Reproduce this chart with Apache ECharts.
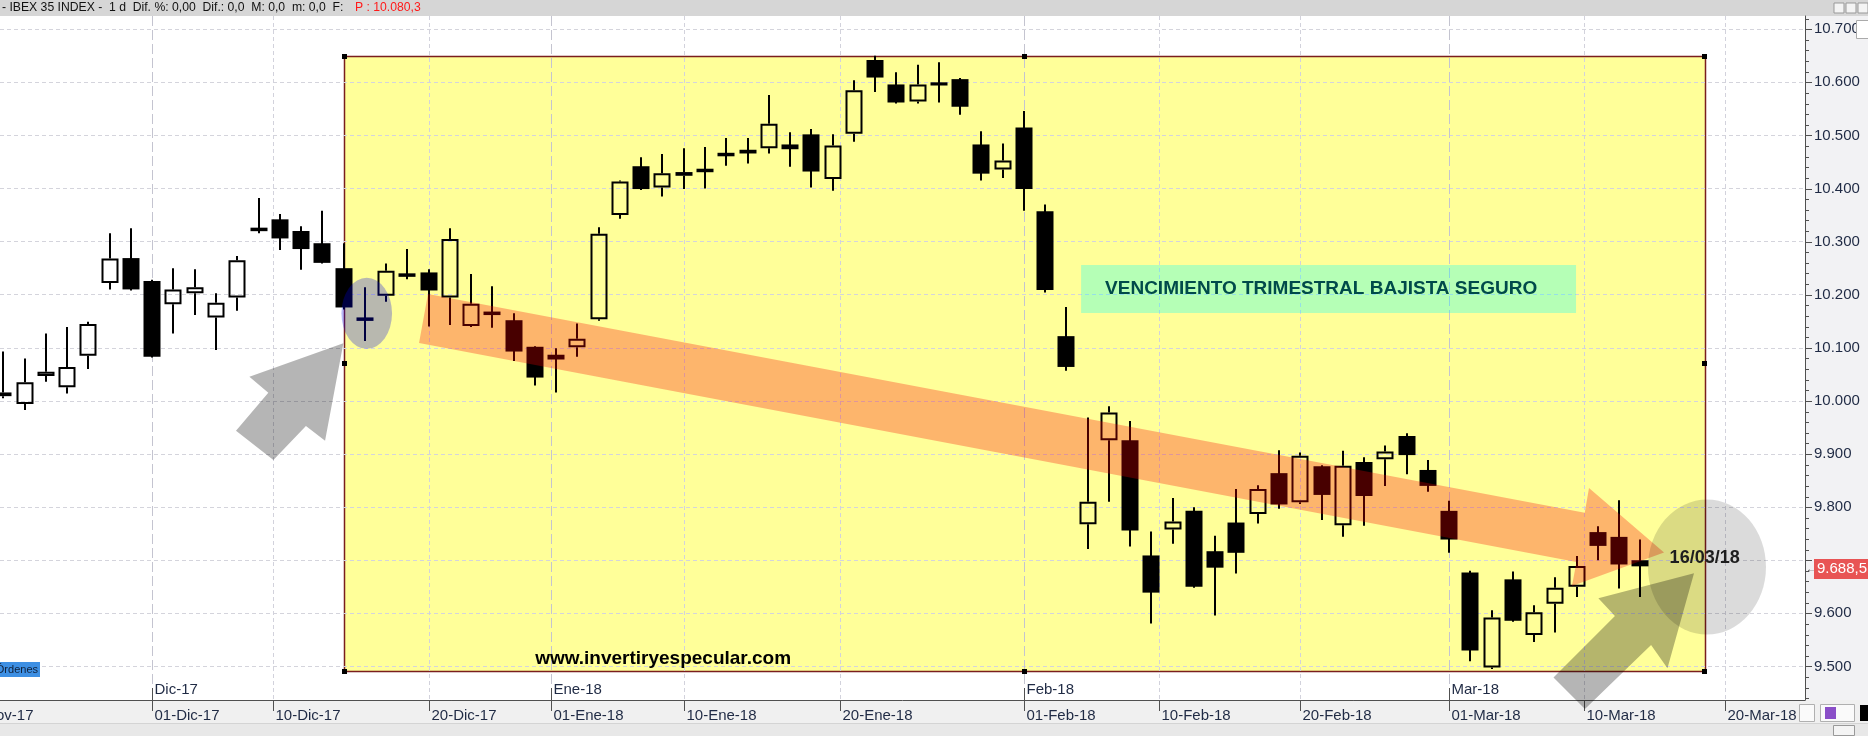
<!DOCTYPE html>
<html>
<head>
<meta charset="utf-8">
<script src="https://cdn.jsdelivr.net/npm/echarts@6.0.0/dist/echarts.min.js"></script>
<style>
html,body{margin:0;padding:0;background:#ffffff;overflow:hidden;}
#chart{width:1868px;height:736px;}
</style>
</head>
<body>
<div id="chart"></div>
<script>
// ---------------- data ----------------
const dates = ['22-Nov-17','23-Nov-17','24-Nov-17','27-Nov-17','28-Nov-17','29-Nov-17','30-Nov-17',
 '01-Dic-17','04-Dic-17','05-Dic-17','06-Dic-17','07-Dic-17','08-Dic-17','11-Dic-17','12-Dic-17','13-Dic-17','14-Dic-17','15-Dic-17','18-Dic-17','19-Dic-17','20-Dic-17','21-Dic-17','22-Dic-17','27-Dic-17','28-Dic-17','29-Dic-17',
 '02-Ene-18','03-Ene-18','04-Ene-18','05-Ene-18','08-Ene-18','09-Ene-18','10-Ene-18','11-Ene-18','12-Ene-18','15-Ene-18','16-Ene-18','17-Ene-18','18-Ene-18','19-Ene-18','22-Ene-18','23-Ene-18','24-Ene-18','25-Ene-18','26-Ene-18','29-Ene-18','30-Ene-18','31-Ene-18',
 '01-Feb-18','02-Feb-18','05-Feb-18','06-Feb-18','07-Feb-18','08-Feb-18','09-Feb-18','12-Feb-18','13-Feb-18','14-Feb-18','15-Feb-18','16-Feb-18','19-Feb-18','20-Feb-18','21-Feb-18','22-Feb-18','23-Feb-18','26-Feb-18','27-Feb-18','28-Feb-18',
 '01-Mar-18','02-Mar-18','05-Mar-18','06-Mar-18','07-Mar-18','08-Mar-18','09-Mar-18','12-Mar-18','13-Mar-18','14-Mar-18'];

const opens  = [10009,9994,10047,10026,10085,10222,10269,10226,10182,10203,10157,10195,10324,10342,10320,10297,10250,10155,10198,10238,10242,10195,10141,10166,10152,10102,10087,10101,10154,10350,10442,10402,10424,10432,10465,10473,10476,10483,10502,10418,10503,10642,10596,10564,10600,10606,10483,10436,10515,10357,10122,9768,9926,9926,9709,9758,9793,9717,9771,9787,9864,9809,9877,9766,9885,9890,9934,9870,9793,9677,9498,9664,9559,9618,9650,9753,9744,9700];
const closes = [10016,10035,10055,10064,10145,10268,10210,10083,10210,10214,10185,10265,10322,10306,10286,10260,10176,10153,10245,10236,10208,10305,10183,10164,10093,10044,10078,10117,10315,10413,10399,10429,10431,10436,10463,10466,10522,10474,10432,10481,10585,10609,10562,10596,10594,10554,10428,10453,10399,10209,10064,9810,9978,9756,9639,9773,9650,9686,9714,9834,9805,9897,9823,9878,9821,9905,9898,9840,9739,9530,9592,9586,9602,9648,9689,9727,9692,9688.5];
const lows   = [10005,9983,10036,10014,10060,10210,10208,10082,10127,10162,10096,10170,10316,10284,10247,10259,10172,10113,10187,10229,10140,10143,10139,10138,10075,10029,10016,10083,10151,10343,10397,10385,10399,10400,10443,10447,10466,10441,10402,10396,10488,10582,10560,10560,10562,10539,10415,10420,10358,10204,10057,9721,9810,9726,9581,9731,9648,9596,9675,9769,9797,9806,9776,9744,9765,9840,9862,9829,9714,9510,9495,9584,9546,9564,9631,9700,9647,9631];
const highs  = [10093,10080,10127,10139,10149,10316,10325,10228,10250,10248,10203,10273,10382,10352,10329,10358,10297,10214,10259,10286,10248,10325,10239,10216,10165,10103,10099,10146,10327,10415,10459,10465,10476,10478,10495,10495,10576,10506,10512,10502,10604,10650,10619,10633,10638,10608,10508,10485,10546,10370,10177,9969,9990,9962,9754,9817,9800,9746,9834,9841,9907,9903,9879,9906,9894,9916,9939,9889,9812,9680,9606,9679,9615,9668,9708,9764,9813,9739];

// x-axis date ticks: position in trading-day index units (calendar days interpolated between sessions)
const dayTickPos    = [-2, 7, 12.667, 20, 25.75, 32, 39.333, 48, 54.333, 61, 68, 74.333, 81];
const dayTickLabels = ['20-Nov-17','01-Dic-17','10-Dic-17','20-Dic-17','01-Ene-18','10-Ene-18','20-Ene-18','01-Feb-18','10-Feb-18','20-Feb-18','01-Mar-18','10-Mar-18','20-Mar-18'];
const monthTickPos    = [7, 25.75, 48, 68];
const monthTickLabels = ['Dic-17','Ene-18','Feb-18','Mar-18'];

// price axis
const priceMin = 9436.8, priceMax = 10724.9;
const indexMin = -0.16, indexMax = 84.74;
const lastPrice = 9688.5;

// annotations in data units [index, price]
const highlightBox = [16, 10650, 80, 9492];            // x0, top, x1, bottom
const noteBox      = [50.69, 10256, 73.97, 10165.6];    // x0, top, x1, bottom
const noteText     = 'VENCIMIENTO TRIMESTRAL BAJISTA SEGURO';
const trendArrow   = [[19.97,10201.3],[74.38,9789.3],[74.58,9836],[78.11,9714.5],[73.78,9651.4],[73.99,9696.8],[19.55,10109.1]];
const arrowLeft    = [[15.99,10108.5],[11.57,10045.6],[12.46,10015.5],[10.94,9943.9],[12.70,9888.7],[14.23,9952.8],[15.13,9925.1]];
const arrowRight   = [[79.52,9675.4],[75.02,9628.3],[75.80,9595],[72.91,9479.1],[74.39,9419.8],[77.50,9540.3],[78.27,9496.5]];
const focusEllipse = [17.09, 10165, 1.19, 66.9];        // cx, cy, rx, ry
const expiryCircle = [80.13, 9687.2, 2.775, 127.1];
const expiryLabel  = [80.02, 9703.6, '16/03/18'];
const siteLabel    = [31.03, 9515.3, 'www.invertiryespecular.com'];

// ---------------- chart ----------------
const FONT = "'Liberation Sans', Arial, sans-serif";
const INK = '#000000';
const AXIS_TXT = '#1f2a44';
function thousands(v){ return String(v).replace('.', ',').replace(/\B(?=(\d{3})+(?!\d))/g, '.'); }

const chart = echarts.init(document.getElementById('chart'));

function candleItem(params, api){
  const x = api.value(0), o = api.value(1), c = api.value(2), l = api.value(3), h = api.value(4);
  const pO = api.coord([x,o]), pC = api.coord([x,c]), pL = api.coord([x,l]), pH = api.coord([x,h]);
  const cx = Math.round(pO[0]);
  const bw = Math.round(api.size([0.78,0])[0]);
  const top = Math.min(pO[1],pC[1]), bot = Math.max(pO[1],pC[1]);
  const wick = {stroke: INK, lineWidth: 2, fill: null};
  const ch = [];
  if (bot - top < 3) {
    const mid = (top+bot)/2;
    ch.push({type:'line', shape:{x1:cx,y1:pH[1],x2:cx,y2:pL[1]}, style:wick});
    ch.push({type:'rect', shape:{x:cx-bw/2, y:mid-1.75, width:bw, height:3.5}, style:{fill:INK}});
  } else if (c > o) {
    ch.push({type:'line', shape:{x1:cx,y1:pH[1],x2:cx,y2:top}, style:wick});
    ch.push({type:'line', shape:{x1:cx,y1:bot,x2:cx,y2:pL[1]}, style:wick});
    ch.push({type:'rect', shape:{x:cx-bw/2+1, y:top+1, width:bw-2, height:bot-top-2}, style:{fill:'transparent', stroke:INK, lineWidth:2}});
  } else {
    ch.push({type:'line', shape:{x1:cx,y1:pH[1],x2:cx,y2:pL[1]}, style:wick});
    ch.push({type:'rect', shape:{x:cx-bw/2, y:top, width:bw, height:bot-top}, style:{fill:INK}});
  }
  return {type:'group', children: ch};
}

function polygonSeries(points, fill, z){
  return {type:'custom', z:z, clip:false, silent:true, data:[points[0]],
    renderItem: (p, api) => ({type:'polygon', shape:{points: points.map(q => api.coord(q))}, style:{fill: fill}})};
}
function ellipseSeries(e, fill, z){
  return {type:'custom', z:z, clip:false, silent:true, data:[[e[0], e[1]]],
    renderItem: (p, api) => {
      const c = api.coord([e[0], e[1]]); const s = api.size([e[2], e[3]]);
      return {type:'circle', shape:{cx:0, cy:0, r:1}, x:c[0], y:c[1], scaleX:s[0], scaleY:s[1], style:{fill: fill}};
    }};
}

const yMinorTicks = [];
for (let v = 9440; v <= 10720; v += 20) yMinorTicks.push([indexMax, v]);

const series = [
  // highlight box (yellow)
  {type:'custom', z:-5, clip:false, silent:true, data:[[highlightBox[0], highlightBox[1]]],
   renderItem: (p, api) => {
     const a = api.coord([highlightBox[0], highlightBox[1]]), b = api.coord([highlightBox[2], highlightBox[3]]);
     return {type:'rect', shape:{x:Math.round(a[0])+0.5, y:Math.round(a[1])+0.5, width:Math.round(b[0]-a[0]), height:Math.round(b[1]-a[1])},
             style:{fill:'#ffff99', stroke:'#7a1e1e', lineWidth:1.5}};
   }},
  // vertical date gridlines, ticks and day labels
  {type:'custom', z:1, clip:false, silent:true, data: dayTickPos.map(v => [v, priceMin]),
   renderItem: (p, api) => {
     const pos = api.value(0);
     const t = api.coord([pos, priceMax]), b = api.coord([pos, priceMin]);
     const x = Math.round(t[0]) + 0.5;
     const isMonth = monthTickPos.indexOf(pos) >= 0;
     return {type:'group', children:[
       {type:'line', shape:{x1:x, y1:t[1], x2:x, y2:b[1]}, style:{stroke: isMonth ? '#c4c4d0' : '#d2d2dc', lineWidth:1, lineDash: isMonth ? [10,4] : [4,3]}},
       {type:'line', shape:{x1:x, y1:b[1], x2:x, y2:b[1]+11}, style:{stroke:'#505050', lineWidth:1}},
       {type:'text', style:{text: dayTickLabels[p.dataIndex], x:x+2, y:b[1]+16, verticalAlign:'middle', align:'left', font:'15px ' + FONT, fill: AXIS_TXT}}
     ]};
   }},
  // month markers
  {type:'custom', z:1, clip:false, silent:true, data: monthTickPos.map(v => [v, priceMin]),
   renderItem: (p, api) => {
     const b = api.coord([api.value(0), priceMin]);
     const x = Math.round(b[0]) + 0.5;
     return {type:'group', children:[
       {type:'line', shape:{x1:x, y1:b[1]-12, x2:x, y2:b[1]}, style:{stroke:'#505050', lineWidth:1}},
       {type:'text', style:{text: monthTickLabels[p.dataIndex], x:x+2, y:b[1]-10, verticalAlign:'middle', align:'left', font:'15px ' + FONT, fill: AXIS_TXT}}
     ]};
   }},
  // price axis ticks
  {type:'custom', z:1, clip:false, silent:true, data: yMinorTicks,
   renderItem: (p, api) => {
     const v = api.value(1);
     const q = api.coord([indexMax, v]);
     const major = Math.round(v) % 100 === 0;
     const y = Math.round(q[1]) + 0.5;
     return {type:'line', shape:{x1:q[0], y1:y, x2:q[0] + (major ? 7 : 4), y2:y}, style:{stroke:'#505050', lineWidth:1}};
   }},
  // candles
  {type:'custom', name:'IBEX 35', z:3, clip:false,
   data: dates.map((d, i) => [i, opens[i], closes[i], lows[i], highs[i]]),
   encode:{x:0, y:[1,2,3,4]},
   renderItem: candleItem},
  // translucent overlays
  polygonSeries(trendArrow, 'rgba(248,0,0,0.29)', 4),
  ellipseSeries(focusEllipse, 'rgba(0,0,235,0.28)', 4),
  polygonSeries(arrowLeft, 'rgba(0,0,0,0.29)', 4),
  ellipseSeries(expiryCircle, 'rgba(0,0,0,0.14)', 4),
  polygonSeries(arrowRight, 'rgba(0,0,0,0.29)', 5),
  // note box
  {type:'custom', z:5, clip:false, silent:true, data:[[noteBox[0], noteBox[1]]],
   renderItem: (p, api) => {
     const a = api.coord([noteBox[0], noteBox[1]]), b = api.coord([noteBox[2], noteBox[3]]);
     return {type:'group', children:[
       {type:'rect', shape:{x:a[0], y:a[1], width:b[0]-a[0], height:b[1]-a[1]}, style:{fill:'rgba(0,255,255,0.29)'}},
       {type:'text', style:{text: noteText, x:a[0]+24, y:(a[1]+b[1])/2, verticalAlign:'middle', align:'left', font:'bold 19px ' + FONT, fill:'#004a4a'}}
     ]};
   }},
  // text labels
  {type:'custom', z:6, clip:false, silent:true, data:[[expiryLabel[0], expiryLabel[1]]],
   renderItem: (p, api) => {
     const a = api.coord([expiryLabel[0], expiryLabel[1]]);
     return {type:'text', style:{text: expiryLabel[2], x:a[0], y:a[1], align:'center', verticalAlign:'middle', font:'bold 18px ' + FONT, fill:'#1e1e1e'}};
   }},
  {type:'custom', z:6, clip:false, silent:true, data:[[siteLabel[0], siteLabel[1]]],
   renderItem: (p, api) => {
     const a = api.coord([siteLabel[0], siteLabel[1]]);
     return {type:'text', style:{text: siteLabel[2], x:a[0], y:a[1], align:'center', verticalAlign:'middle', font:'bold 19px ' + FONT, fill:'#000000'}};
   }},
  // selection handles of the highlight box
  {type:'custom', z:6, clip:false, silent:true,
   data: [[highlightBox[0],highlightBox[1]],[(highlightBox[0]+highlightBox[2])/2,highlightBox[1]],[highlightBox[2],highlightBox[1]],
          [highlightBox[0],(highlightBox[1]+highlightBox[3])/2],[highlightBox[2],(highlightBox[1]+highlightBox[3])/2],
          [highlightBox[0],highlightBox[3]],[(highlightBox[0]+highlightBox[2])/2,highlightBox[3]],[highlightBox[2],highlightBox[3]]],
   renderItem: (p, api) => {
     const a = api.coord([api.value(0), api.value(1)]);
     return {type:'rect', shape:{x:Math.round(a[0])-2, y:Math.round(a[1])-2, width:5, height:5}, style:{fill:'#000'}};
   }},
  // last price marker
  {type:'custom', z:8, clip:false, silent:true, data:[[indexMax, lastPrice]],
   renderItem: (p, api) => {
     const a = api.coord([indexMax, lastPrice]);
     const yc = Math.round(a[1]) + 3;
     return {type:'group', children:[
       {type:'rect', shape:{x:a[0]+9, y:yc-10, width:56, height:20}, style:{fill:'#e85454'}},
       {type:'text', style:{text: thousands(lastPrice), x:a[0]+12, y:yc, verticalAlign:'middle', align:'left', font:'15px ' + FONT, fill:'#ffffff'}},
       {type:'text', style:{text:'\u2190', x:a[0]+1, y:yc, verticalAlign:'middle', align:'left', font:'10px ' + FONT, fill:'#444'}}
     ]};
   }}
];

const option = {
  animation: false,
  backgroundColor: '#ffffff',
  grid: {left: 0, right: 63, top: 16, bottom: 36, show: false},
  xAxis: {
    type: 'value', min: indexMin, max: indexMax,
    axisLine: {show: true, onZero: false, lineStyle: {color: '#505050', width: 1}},
    axisTick: {show: false}, axisLabel: {show: false}, splitLine: {show: false}
  },
  yAxis: {
    type: 'value', position: 'right', min: priceMin, max: priceMax, splitNumber: 13,
    axisLine: {show: true, onZero: false, lineStyle: {color: '#505050', width: 1}},
    axisTick: {show: false},
    axisLabel: {show: true, margin: 9, color: AXIS_TXT, fontSize: 15, fontFamily: FONT,
                showMinLabel: false, showMaxLabel: false,
                formatter: v => (Math.abs(v - lastPrice) < 30 ? '' : thousands(v))},
    splitLine: {show: true, showMinLine: false, showMaxLine: false, lineStyle: {color: '#d4d4dc', type: [4,3], width: 1}}
  },
  graphic: [
    // header
    {type:'rect', z:-10, shape:{x:0, y:0, width:1868, height:16}, style:{fill:'#d6d6d6'}},
    {type:'text', z:20, x:2, y:8, style:{text:'- IBEX 35 INDEX -  1 d  Dif. %: 0,00  Dif.: 0,0  M: 0,0  m: 0,0  F:', font:'12.2px ' + FONT, fill:'#111', verticalAlign:'middle'}},
    {type:'text', z:20, x:355, y:8, style:{text:'P : 10.080,3', font:'12.2px ' + FONT, fill:'#ff1a1a', verticalAlign:'middle'}},
    {type:'rect', z:20, shape:{x:1834, y:3, width:10, height:10}, style:{fill:'#f4f4f4', stroke:'#999', lineWidth:1}},
    {type:'rect', z:20, shape:{x:1846, y:3, width:10, height:10}, style:{fill:'#f4f4f4', stroke:'#999', lineWidth:1}},
    {type:'rect', z:20, shape:{x:1858, y:3, width:10, height:10}, style:{fill:'#f4f4f4', stroke:'#999', lineWidth:1}},
    // right price panel
    {type:'rect', z:-10, shape:{x:1806, y:16, width:62, height:684}, style:{fill:'#f2f2f4'}},
    {type:'rect', z:20, shape:{x:1856.5, y:20.5, width:14, height:18}, style:{fill:'#ffffff', stroke:'#aaa', lineWidth:1}},
    // bottom bands
    {type:'rect', z:-10, shape:{x:0, y:700, width:1868, height:24}, style:{fill:'#f0f0f0'}},
    {type:'rect', z:-10, shape:{x:0, y:724, width:1868, height:12}, style:{fill:'#e8e8e8'}},
    {type:'line', z:-9, shape:{x1:0, y1:723.5, x2:1868, y2:723.5}, style:{stroke:'#d4d4d4', lineWidth:1}},
    {type:'rect', z:20, shape:{x:1799.5, y:704.5, width:15, height:17}, style:{fill:'#fafafa', stroke:'#b0b0b0', lineWidth:1}},
    {type:'rect', z:20, shape:{x:1820.5, y:704.5, width:34, height:17}, style:{fill:'#fafafa', stroke:'#b0b0b0', lineWidth:1}},
    {type:'rect', z:20, shape:{x:1825, y:707, width:11, height:12}, style:{fill:'#8a4fc8'}},
    {type:'rect', z:20, shape:{x:1860, y:705, width:8, height:16}, style:{fill:'#000'}},
    {type:'rect', z:20, shape:{x:1833.5, y:725.5, width:21, height:10}, style:{fill:'#f4f4f4', stroke:'#999', lineWidth:1}},
    // orders tab
    {type:'rect', z:20, shape:{x:0, y:662, width:40, height:15}, style:{fill:'#3d8fe3'}},
    {type:'text', z:21, x:38, y:669.5, style:{text:'\u00d3rdenes', font:'11px ' + FONT, fill:'#10203a', align:'right', verticalAlign:'middle'}}
  ],
  series: series
};
chart.setOption(option);
</script>
</body>
</html>
